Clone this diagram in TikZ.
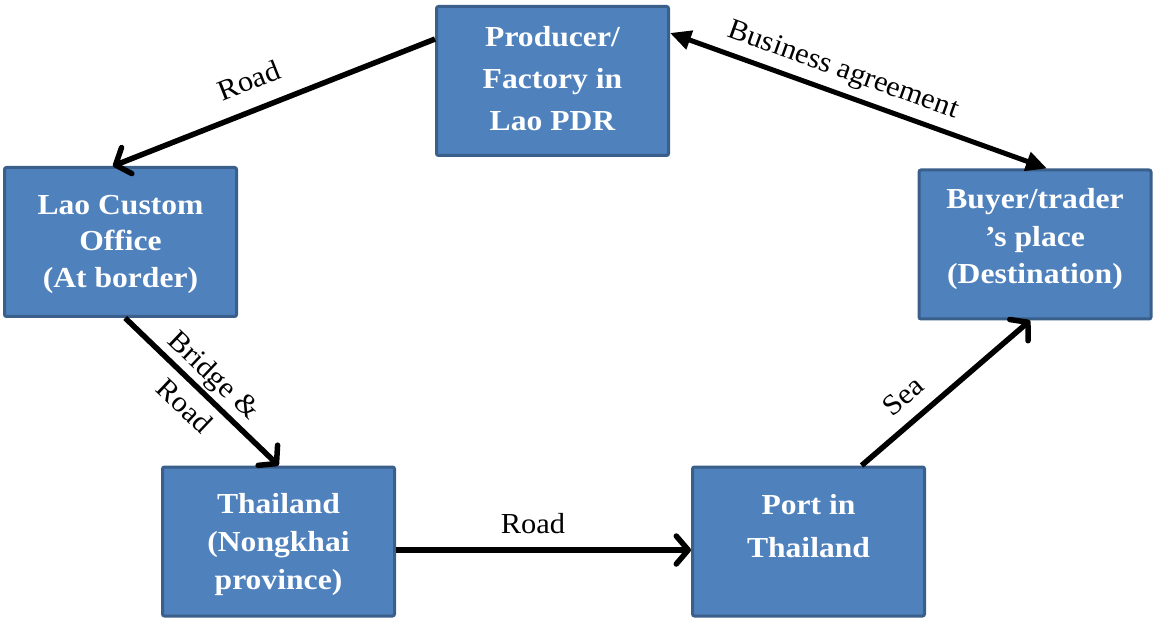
\documentclass[tikz,border=0pt]{standalone}
\usepackage{graphicx}
\usepackage{fontspec}
\setmainfont{Liberation Serif}
\usetikzlibrary{arrows.meta,calc}
\definecolor{boxfill}{HTML}{4F81BD}
\definecolor{boxline}{HTML}{3A5F8B}
\newcommand\boxtxt[2]{\scalebox{1.09}[1]{\fontsize{29}{#1}\selectfont\bfseries\begin{tabular}{@{}c@{}}#2\end{tabular}}}
\newcommand\lbltxt[2]{\scalebox{1.05}[1]{\fontsize{29}{#1}\selectfont\begin{tabular}{@{}c@{}}#2\end{tabular}}}
\tikzset{
  stagebox/.style={draw=boxline, fill=boxfill, line width=3pt, rounded corners=2pt,
    minimum width=232pt, minimum height=149pt, inner sep=0pt},
  boxlabel/.style={text=white, inner sep=0pt},
  edgelabel/.style={text=black, inner sep=0pt},
  flow/.style={line width=5.5pt, -{Straight Barb[length=12pt,width=28pt,round]}},
  agree/.style={line width=5pt, {Triangle[length=21pt,width=19pt]}-{Triangle[length=21pt,width=19pt]}}
}
\begin{document}
\begin{tikzpicture}[x=1pt,y=-1pt]
\useasboundingbox (0,0) rectangle (1154,620);
% boxes
\node[stagebox] (p) at (552.5,81) {};
\node[stagebox] (l) at (120.5,242) {};
\node[stagebox] (b) at (1035,244.5) {};
\node[stagebox] (t) at (278.5,541.5) {};
\node[stagebox] (s) at (808.5,541.5) {};
% box texts
\node[boxlabel] (ptxt) at (552.5,80) {\boxtxt{42}{Producer/\\Factory in\\Lao PDR}};
\node[boxlabel] (ltxt) at (120.5,243.5) {\boxtxt{36.5}{Lao Custom\\Office\\(At border)}};
\node[boxlabel] (btxt) at (1035,239) {\boxtxt{37.5}{Buyer/trader\\’s place\\(Destination)}};
\node[boxlabel] (ttxt) at (278.5,544) {\boxtxt{38}{Thailand\\(Nongkhai\\province)}};
\node[boxlabel] (stxt) at (808.5,527.5) {\boxtxt{43}{Port in\\Thailand}};
% connectors
\draw[flow] ($(p.north west)!0.224!(p.south west)$) -- ($(l.north west)!0.468!(l.north east)$);
\draw[flow] ($(l.south west)!0.52!(l.south east)$) -- (t.north);
\coordinate (tout) at ($(t.north east)!0.556!(t.south east)$);
\draw[flow] (tout) -- (s.west |- tout);
\draw[flow] ($(s.north west)!0.726!(s.north east)$) -- ($(b.south west)!0.479!(b.south east)$);
\draw[agree] ($(p.north east)!0.184!(p.south east)$) -- ($(b.north west)!0.551!(b.north east)$);
% connector labels
\node[edgelabel, rotate=21.6] (lroad1) at (250,83) {\lbltxt{34}{Road}};
\node[edgelabel, rotate=-43.6] (lbridge) at (199,391) {\lbltxt{43}{Bridge \&\\Road}};
\node[edgelabel] (lroad2) at (533,527) {\lbltxt{34}{Road}};
\node[edgelabel, rotate=40.4] (lsea) at (905,398) {\lbltxt{34}{Sea}};
\node[edgelabel, rotate=-19.7] (lbiz) at (843,71) {\lbltxt{34}{Business agreement}};
\end{tikzpicture}
\end{document}
